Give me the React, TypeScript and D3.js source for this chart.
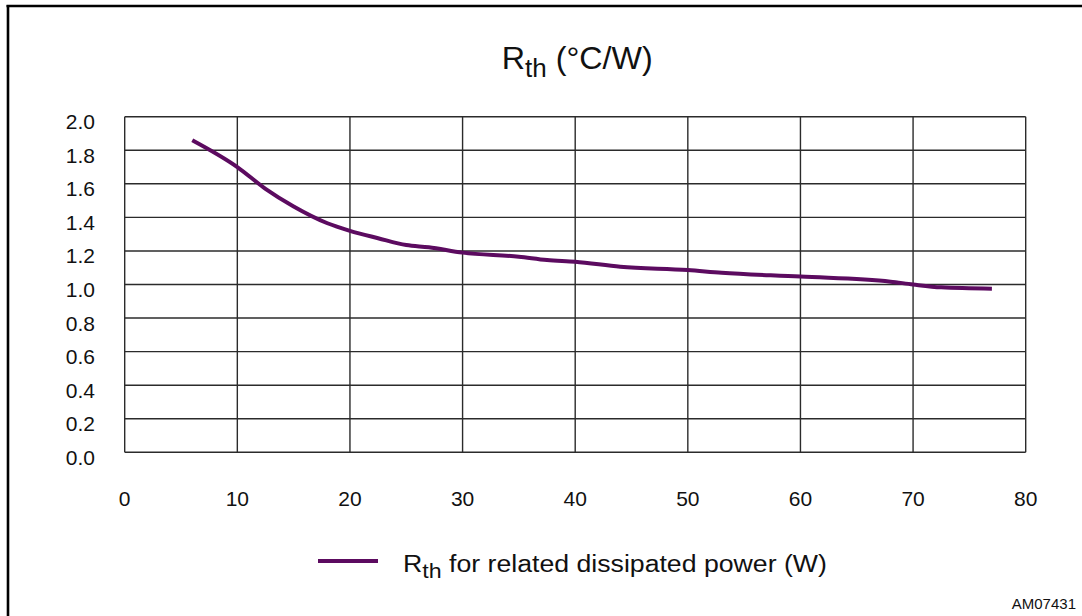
import { useEffect, useRef } from 'react';
import * as d3 from 'd3';

// Dissipated power (W) and the related thermal resistance (°C/W)
const powerW = [6, 10, 12.5, 15, 18, 20, 22.5, 25, 27, 30, 35, 37.5, 40, 44, 50, 53, 60, 68, 70, 72.5, 77];
const rthValues = [1.86, 1.7, 1.57, 1.465, 1.365, 1.32, 1.276, 1.235, 1.222, 1.19, 1.166, 1.146, 1.136, 1.106, 1.086, 1.07, 1.047, 1.017, 1.0, 0.983, 0.975];

const xTicks = [0, 10, 20, 30, 40, 50, 60, 70, 80];
const yTicks = [0, 0.2, 0.4, 0.6, 0.8, 1.0, 1.2, 1.4, 1.6, 1.8, 2.0];

const legendLabel = 'for related dissipated power (W)';
const figureCode = 'AM07431';

export default function App() {
  const svgRef = useRef<SVGSVGElement>(null);

  useEffect(() => {
    if (!svgRef.current) return;
    const svg = d3.select(svgRef.current);
    svg.selectAll('*').remove();

    const W = 1082;
    const H = 616;
    const font = '"Liberation Sans", Arial, sans-serif';
    const lineColor = '#5c0b60';
    const gridColor = '#2b2b2b';

    // plot area
    const left = 124.7;
    const right = 1025.7;
    const top = 116.7;
    const bottom = 452.3;

    const x = d3.scaleLinear().domain([0, 80]).range([left, right]);
    const y = d3.scaleLinear().domain([0, 2]).range([bottom, top]);

    svg.append('rect').attr('width', W).attr('height', H).attr('fill', '#fff');

    // outer frame (top + left only, the rest is cropped off)
    svg.append('line')
      .attr('x1', 6.5).attr('x2', W).attr('y1', 6).attr('y2', 6)
      .attr('stroke', '#000').attr('stroke-width', 2.6);
    svg.append('line')
      .attr('x1', 8).attr('x2', 8).attr('y1', 5).attr('y2', H)
      .attr('stroke', '#000').attr('stroke-width', 2.6);

    // Grid
    const grid = svg.append('g');
    grid.selectAll('line.h')
      .data(yTicks)
      .join('line')
      .attr('class', 'h')
      .attr('x1', left).attr('x2', right)
      .attr('y1', (d) => y(d)).attr('y2', (d) => y(d))
      .attr('stroke', gridColor)
      .attr('stroke-width', 1.4);
    grid.selectAll('line.v')
      .data(xTicks)
      .join('line')
      .attr('class', 'v')
      .attr('x1', (d) => x(d)).attr('x2', (d) => x(d))
      .attr('y1', top).attr('y2', bottom)
      .attr('stroke', gridColor)
      .attr('stroke-width', 1.4);

    // Y labels
    svg.append('g')
      .selectAll('text')
      .data(yTicks)
      .join('text')
      .attr('x', 95)
      .attr('y', (d) => y(d) + 12.5)
      .attr('text-anchor', 'end')
      .attr('font-family', font)
      .attr('font-size', 21)
      .attr('fill', '#111')
      .text((d) => d3.format('.1f')(d));

    // X labels
    svg.append('g')
      .selectAll('text')
      .data(xTicks)
      .join('text')
      .attr('x', (d) => x(d))
      .attr('y', 506)
      .attr('text-anchor', 'middle')
      .attr('font-family', font)
      .attr('font-size', 21)
      .attr('fill', '#111')
      .text((d) => String(d));

    // Curve
    const line = d3.line<number>()
      .x((_, i) => x(powerW[i]))
      .y((d) => y(d))
      .curve(d3.curveMonotoneX);

    svg.append('path')
      .datum(rthValues)
      .attr('d', line)
      .attr('fill', 'none')
      .attr('stroke', lineColor)
      .attr('stroke-width', 4);

    // Title: R_th (°C/W)
    const title = svg.append('text')
      .attr('transform', `translate(${(left + right) / 2 + 2},69) scale(1.04,1)`)
      .attr('text-anchor', 'middle')
      .attr('font-family', font)
      .attr('font-size', 31)
      .attr('fill', '#111');
    title.append('tspan').text('R');
    title.append('tspan').attr('font-size', 25).attr('dy', 8).text('th');
    title.append('tspan').attr('dy', -8).text(' (°C/W)');

    // Legend
    svg.append('line')
      .attr('x1', 318).attr('x2', 378)
      .attr('y1', 561).attr('y2', 561)
      .attr('stroke', lineColor)
      .attr('stroke-width', 4);
    const legend = svg.append('text')
      .attr('transform', 'translate(403,572) scale(1.16,1)')
      .attr('font-family', font)
      .attr('font-size', 23)
      .attr('fill', '#111');
    legend.append('tspan').text('R');
    legend.append('tspan').attr('font-size', 20).attr('dy', 6).text('th');
    legend.append('tspan').attr('dy', -6).text(' ' + legendLabel);

    // Figure code
    svg.append('text')
      .attr('x', 1076)
      .attr('y', 609)
      .attr('text-anchor', 'end')
      .attr('font-family', font)
      .attr('font-size', 15)
      .attr('fill', '#111')
      .text(figureCode);
  }, []);

  return (
    <svg
      ref={svgRef}
      width={1082}
      height={616}
      style={{ position: 'absolute', left: 0, top: 0, display: 'block' }}
    />
  );
}
